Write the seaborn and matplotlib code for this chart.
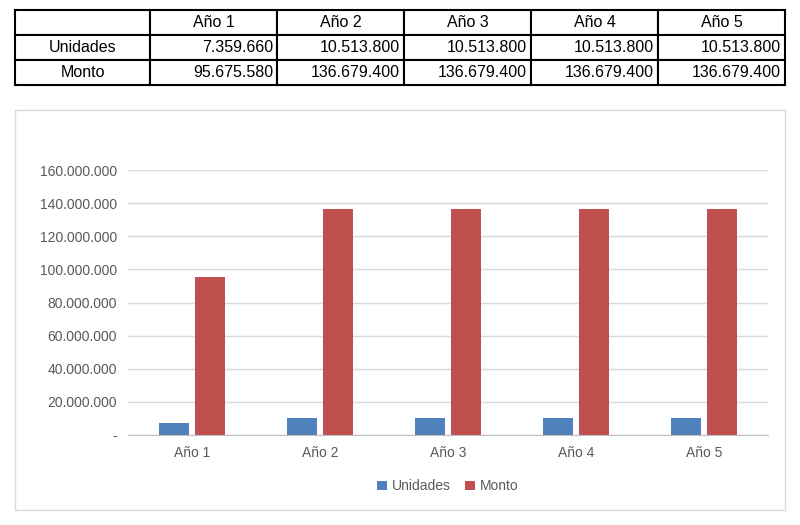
import pandas as pd
import matplotlib
matplotlib.use('Agg')
import matplotlib.pyplot as plt
import seaborn as sns
from matplotlib.ticker import FuncFormatter, MultipleLocator
from matplotlib.patches import Rectangle

plt.rcParams['font.family'] = 'Liberation Sans'

# datos
anios = ['Año 1', 'Año 2', 'Año 3', 'Año 4', 'Año 5']
unidades = [7359660, 10513800, 10513800, 10513800, 10513800]
monto = [95675580, 136679400, 136679400, 136679400, 136679400]

def miles(v):
    return f"{v:,.0f}".replace(',', '.')

fig = plt.figure(figsize=(8, 5.25), dpi=100)

# tabla superior
tax = fig.add_axes([15/800, 1 - 85/525, 770/800, 75/525])
tax.axis('off')
celdas = [[''] + anios,
          ['Unidades'] + [miles(v) for v in unidades],
          ['Monto'] + [miles(v) for v in monto]]
tabla = tax.table(cellText=celdas, bbox=[0, 0, 1, 1],
                  colWidths=[135] + [127] * 5)
tabla.auto_set_font_size(False)
for (r, c), cell in tabla.get_celld().items():
    cell.set_linewidth(1.5)
    cell.set_edgecolor('black')
    cell.get_text().set_fontsize(11.5)
    if r > 0 and c > 0:
        cell.get_text().set_ha('right')
        cell.PAD = 0.03
    else:
        cell.get_text().set_ha('center')

# marco del grafico
fig.patches.append(Rectangle((15/800, 1 - 510/525), 770/800, 400/525,
                             transform=fig.transFigure, fill=False,
                             edgecolor='#d9d9d9', linewidth=1))

df = pd.DataFrame({
    'anio': anios * 2,
    'serie': ['Unidades'] * 5 + ['Monto'] * 5,
    'valor': unidades + monto,
})

ax = fig.add_axes([128/800, 1 - 435/525, 640/800, 265/525])
sns.barplot(data=df, x='anio', y='valor', hue='serie', ax=ax,
            palette=['#4F81BD', '#C0504D'], width=0.55, gap=0.15,
            saturation=1)
ax.set_ylim(0, 160000000)
ax.yaxis.set_major_locator(MultipleLocator(20000000))
ax.yaxis.set_major_formatter(FuncFormatter(lambda v, p: '-' if v == 0 else miles(v)))
ax.grid(axis='y', color='#d9d9d9', linewidth=1)
ax.set_axisbelow(True)
for s in ['top', 'right', 'left']:
    ax.spines[s].set_visible(False)
ax.spines['bottom'].set_color('#bfbfbf')
ax.tick_params(length=0, labelsize=10, colors='#595959', pad=8)
ax.set_xlabel('')
ax.set_ylabel('')
ax.legend(loc='upper center', bbox_to_anchor=(0.5, -0.12), ncol=2, frameon=False,
          fontsize=10, handlelength=0.7, handleheight=0.7, columnspacing=1,
          handletextpad=0.4, labelcolor='#595959')

fig.savefig('out.png', dpi=100)
